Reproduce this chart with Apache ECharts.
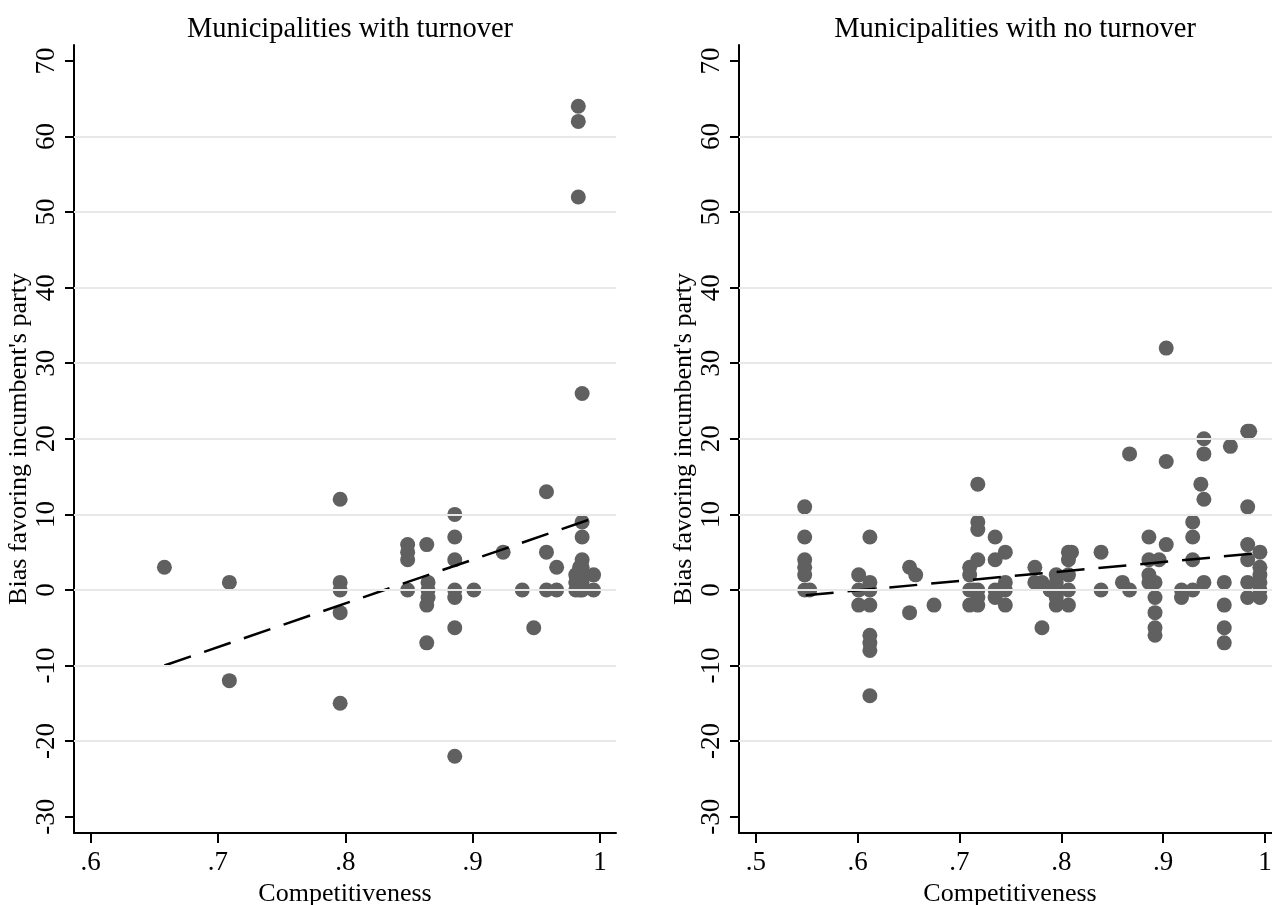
<!DOCTYPE html>
<html>
<head>
<meta charset="utf-8">
<script src="https://cdn.jsdelivr.net/npm/echarts@6/dist/echarts.min.js"></script>
<style>
  html, body { margin: 0; padding: 0; background: #fff; }
  #chart { width: 1272px; height: 905px; }
</style>
</head>
<body>
<div id="chart"></div>
<script>
// panel titles
const titles = ['Municipalities with turnover', 'Municipalities with no turnover']

// left panel: municipalities with turnover
const leftX = [0.658, 0.709, 0.709, 0.796, 0.796, 0.796, 0.796, 0.796, 0.849, 0.849, 0.849, 0.849,
  0.864, 0.865, 0.865, 0.865, 0.864, 0.864, 0.886, 0.886, 0.886, 0.886, 0.886, 0.886, 0.886,
  0.901, 0.924, 0.939, 0.948, 0.958, 0.958, 0.958, 0.966, 0.966,
  0.983, 0.983, 0.983, 0.986, 0.986, 0.986, 0.986, 0.986, 0.986, 0.986, 0.986,
  0.981, 0.981, 0.981, 0.984, 0.984, 0.995, 0.995]
const leftY = [3, 1, -12, 12, 1, 0, -3, -15, 6, 5, 4, 0,
  6, 1, 0, -1, -2, -7, 10, 7, 4, 0, -1, -5, -22,
  0, 5, 0, -5, 13, 5, 0, 3, 0,
  64, 62, 52, 26, 9, 7, 4, 3, 2, 1, 0,
  2, 1, 0, 3, 0, 2, 0]
const leftFitX = [0.658, 0.995]
const leftFitY = [-10, 9.5]

// right panel: municipalities with no turnover
const rightX = [0.548, 0.548, 0.548, 0.548, 0.548, 0.548, 0.553,
  0.601, 0.601, 0.601, 0.612, 0.612, 0.612, 0.612, 0.612, 0.612, 0.612, 0.612,
  0.651, 0.651, 0.657, 0.675,
  0.71, 0.71, 0.71, 0.71, 0.718, 0.718, 0.718, 0.718, 0.718, 0.718, 0.718, 0.714,
  0.735, 0.735, 0.735, 0.735, 0.745, 0.745, 0.745, 0.745,
  0.774, 0.774, 0.781, 0.781, 0.789, 0.795, 0.795, 0.795, 0.795, 0.795,
  0.807, 0.81, 0.807, 0.807, 0.807, 0.807, 0.839, 0.839, 0.86, 0.867, 0.867,
  0.886, 0.886, 0.886, 0.886, 0.892, 0.892, 0.892, 0.892, 0.892, 0.896,
  0.903, 0.903, 0.903, 0.918, 0.918, 0.929, 0.929, 0.929, 0.929,
  0.94, 0.94, 0.937, 0.94, 0.94, 0.96, 0.96, 0.96, 0.96, 0.966,
  0.983, 0.985, 0.983, 0.983, 0.983, 0.983, 0.983,
  0.995, 0.995, 0.995, 0.995, 0.995, 0.995]
const rightY = [11, 7, 4, 3, 2, 0, 0,
  2, 0, -2, 7, 1, 0, -2, -6, -7, -8, -14,
  3, -3, 2, -2,
  3, 2, 0, -2, 14, 9, 8, 4, 0, -1, -2, 0,
  7, 4, 0, -1, 5, 1, 0, -2,
  3, 1, 1, -5, 0, 2, 1, 0, -1, -2,
  5, 5, 4, 2, 0, -2, 5, 0, 1, 18, 0,
  7, 4, 2, 1, 1, -1, -3, -5, -6, 4,
  32, 17, 6, 0, -1, 9, 7, 4, 0,
  20, 18, 14, 12, 1, 1, -2, -5, -7, 19,
  21, 21, 11, 6, 4, 1, -1,
  5, 3, 2, 1, 0, -1]
const rightFitX = [0.549, 0.996]
const rightFitY = [-0.7, 4.9]

// axis ticks
const xTicksLeft = [0.6, 0.7, 0.8, 0.9, 1]
const xTicksRight = [0.5, 0.6, 0.7, 0.8, 0.9, 1]
const yTicks = [-30, -20, -10, 0, 10, 20, 30, 40, 50, 60, 70]
const gridValues = [-20, -10, 0, 10, 20, 30, 40, 50, 60]

const FONT = 'Liberation Serif'
const zip = (xs, ys) => xs.map((x, i) => [x, ys[i]])
const fmtX = v => (Math.abs(v - 1) < 1e-9 ? '1' : String(+v.toFixed(1)).replace(/^0/, ''))

const chart = echarts.init(document.getElementById('chart'))

function xAxis(gridIndex, min, max, ticks) {
  return {
    type: 'value', gridIndex, min, max,
    name: 'Competitiveness', nameLocation: 'middle', nameGap: 38,
    nameTextStyle: { fontFamily: FONT, fontSize: 26, color: '#000' },
    axisLine: { show: true, onZero: false, lineStyle: { color: '#000', width: 2 } },
    axisTick: { show: true, length: 10, customValues: ticks, lineStyle: { color: '#000', width: 2 } },
    axisLabel: { customValues: ticks, formatter: fmtX, margin: 16, fontFamily: FONT, fontSize: 27, color: '#000' },
    splitLine: { show: false }
  }
}

function yAxis(gridIndex) {
  return {
    type: 'value', gridIndex, min: -32.16, max: 72.11,
    name: "Bias favoring incumbent's party", nameLocation: 'middle', nameGap: 37,
    nameTextStyle: { fontFamily: FONT, fontSize: 26, color: '#000' },
    axisLine: { show: true, onZero: false, lineStyle: { color: '#000', width: 2 } },
    axisTick: { show: true, length: 9, customValues: yTicks, lineStyle: { color: '#000', width: 2 } },
    axisLabel: { customValues: yTicks, rotate: 90, margin: 14, fontFamily: FONT, fontSize: 27, color: '#000' },
    splitLine: { show: false }
  }
}

function gridLines(i) {
  return {
    type: 'line', xAxisIndex: i, yAxisIndex: i, data: [], z: 1, silent: true,
    markLine: {
      silent: true, symbol: 'none', animation: false,
      label: { show: false },
      lineStyle: { color: '#e8e8e8', width: 2, type: 'solid' },
      data: gridValues.map(v => ({ yAxis: v }))
    }
  }
}

function dots(i, xs, ys) {
  return {
    type: 'scatter', xAxisIndex: i, yAxisIndex: i, z: 3,
    symbolSize: 15, itemStyle: { color: '#606060', opacity: 1 },
    data: zip(xs, ys)
  }
}

function fit(i, xs, ys) {
  return {
    type: 'line', xAxisIndex: i, yAxisIndex: i, z: 4,
    showSymbol: false, symbol: 'none',
    lineStyle: { color: '#000', width: 2.5, type: [28, 14] },
    data: zip(xs, ys)
  }
}

chart.setOption({
  animation: false,
  backgroundColor: '#fff',
  title: [
    { text: titles[0], left: 345, top: 10, textAlign: 'center',
      textStyle: { fontFamily: FONT, fontSize: 28.5, fontWeight: 'normal', color: '#000' } },
    { text: titles[1], left: 1010, top: 10, textAlign: 'center',
      textStyle: { fontFamily: FONT, fontSize: 28.5, fontWeight: 'normal', color: '#000' } }
  ],
  grid: [
    { left: 74, top: 45, width: 542, height: 788, outerBoundsMode: 'none' },
    { left: 739, top: 45, width: 542, height: 788, outerBoundsMode: 'none' }
  ],
  xAxis: [xAxis(0, 0.587, 1.0126, xTicksLeft), xAxis(1, 0.4835, 1.0157, xTicksRight)],
  yAxis: [yAxis(0), yAxis(1)],
  series: [
    gridLines(0), gridLines(1),
    dots(0, leftX, leftY), dots(1, rightX, rightY),
    fit(0, leftFitX, leftFitY), fit(1, rightFitX, rightFitY)
  ]
})
</script>
</body>
</html>
